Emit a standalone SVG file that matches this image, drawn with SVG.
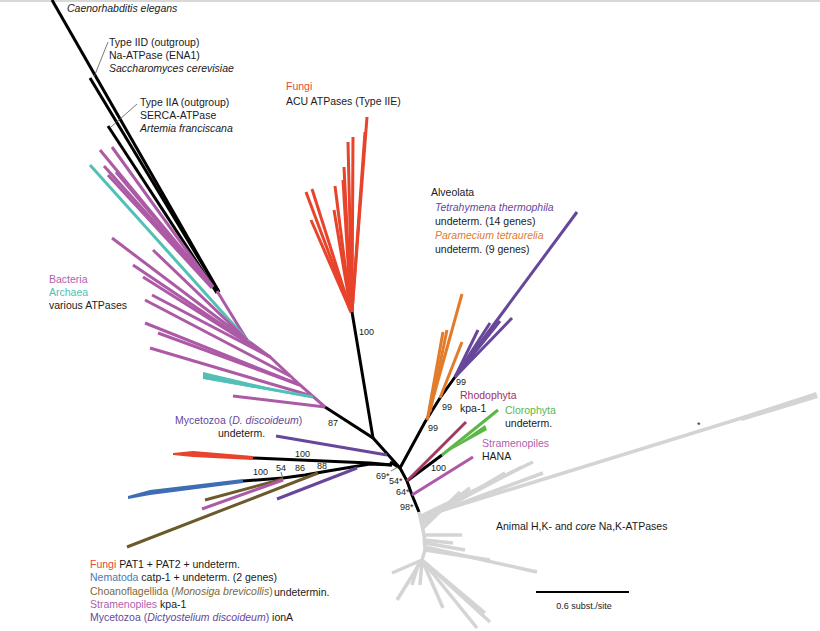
<svg xmlns="http://www.w3.org/2000/svg" width="820" height="631" viewBox="0 0 820 631">
<style>
text{font-family:"Liberation Sans",Arial,sans-serif;font-size:10.5px;fill:#1a1a1a}
.it{font-style:italic}
.bs{font-size:9px}
line,polyline,path{fill:none;stroke-linecap:butt}
.k{stroke:#000;stroke-width:3}
.r{stroke:#e8432b;stroke-width:3}
.m{stroke:#ad5aa6;stroke-width:3}
.t{stroke:#52c0b6;stroke-width:3}
.p{stroke:#66479a;stroke-width:3}
.o{stroke:#e27c2c;stroke-width:3}
.mr{stroke:#a23a65;stroke-width:3}
.g{stroke:#5cb748;stroke-width:3}
.b{stroke:#3f6db4;stroke-width:3}
.ol{stroke:#6b5a2b;stroke-width:3}
.gr{stroke:#d4d4d4;stroke-width:3.5}
.ld{stroke:#555;stroke-width:0.8}
.cR{fill:#e64a33}.cM{fill:#b060ae}.cT{fill:#4bbfb4}.cP{fill:#66479a}.cO{fill:#e07a30}
.cMr{fill:#a0305f}.cG{fill:#5cb748}.cB{fill:#4a78b8}.cOl{fill:#7a6a38}
</style>
<rect x="0" y="0" width="820" height="631" fill="#fff"/>
<rect x="0" y="0" width="820" height="2" fill="#d8d8d8"/>

<g id="connectors">
  <polyline class="k" points="325,407 373,438 400,468"/>
  <polyline class="k" points="352,312 373,438"/>
  <polyline class="k" points="400,468 407,481 412,495 419,512"/>
  <polyline class="k" points="400,468 425,422 440,398 455,377"/>
  <polyline class="k" points="407,481 442,455"/>
  <polyline class="k" points="390,462 400,468"/>
  <polyline class="k" points="253,458 370,463 392,465"/>
  <polyline class="k" points="243,481 283,478 305,475 328,471 370,464 392,465"/>
  <line class="ld" x1="391" y1="471" x2="398" y2="467"/>
  <line class="ld" x1="281" y1="472" x2="283" y2="479"/>
</g>

<g id="outgroups">
  <line class="k" x1="52" y1="0" x2="219" y2="292"/>
  <line class="k" x1="90" y1="78" x2="219" y2="292"/>
  <line class="k" x1="108" y1="126" x2="217" y2="293"/>
  <line class="ld" x1="108" y1="42" x2="94" y2="77"/>
  <line class="ld" x1="137" y1="104" x2="111" y2="127"/>
</g>

<g id="bacteria-archaea">
  <polyline class="m" points="217,291 247,340 270,357 300,385 325,407"/>
  <line class="m" x1="100" y1="150" x2="213" y2="287"/>
  <line class="m" x1="112" y1="147" x2="213" y2="287"/>
  <line class="m" x1="104" y1="166" x2="210" y2="284"/>
  <line class="m" x1="116" y1="172" x2="210" y2="284"/>
  <line class="m" x1="108" y1="175" x2="212" y2="288"/>
  <line class="t" x1="90" y1="165" x2="250" y2="343"/>
  <line class="m" x1="112" y1="238" x2="247" y2="340"/>
  <line class="m" x1="153" y1="250" x2="247" y2="340"/>
  <line class="m" x1="133" y1="265" x2="270" y2="357"/>
  <line class="m" x1="143" y1="277" x2="270" y2="357"/>
  <line class="m" x1="152" y1="295" x2="270" y2="357"/>
  <line class="m" x1="145" y1="300" x2="290" y2="376"/>
  <line class="m" x1="145" y1="323" x2="300" y2="385"/>
  <line class="m" x1="158" y1="333" x2="300" y2="385"/>
  <line class="m" x1="150" y1="348" x2="312" y2="396"/>
  <polygon points="203,372 203,379 313,398" fill="#52c0b6"/>
  <line class="t" x1="203" y1="377" x2="313" y2="397"/>
  <line class="m" x1="233" y1="396" x2="325" y2="407"/>
</g>

<g id="fungi-acu">
  <line class="r" x1="367" y1="117" x2="352" y2="312"/>
  <line class="r" x1="365" y1="132" x2="352" y2="312"/>
  <line class="r" x1="353" y1="137" x2="352" y2="312"/>
  <line class="r" x1="348" y1="142" x2="352" y2="312"/>
  <line class="r" x1="344" y1="167" x2="351" y2="312"/>
  <line class="r" x1="343" y1="180" x2="351" y2="312"/>
  <line class="r" x1="335" y1="186" x2="351" y2="312"/>
  <line class="r" x1="334" y1="210" x2="351" y2="312"/>
  <line class="r" x1="306" y1="192" x2="351" y2="312"/>
  <line class="r" x1="312" y1="189" x2="351" y2="312"/>
  <line class="r" x1="311" y1="220" x2="351" y2="312"/>
</g>

<g id="alveolata">
  <line class="p" x1="455" y1="377" x2="577" y2="212"/>
  <line class="p" x1="455" y1="377" x2="512" y2="318"/>
  <line class="p" x1="455" y1="377" x2="500" y2="321"/>
  <line class="p" x1="455" y1="377" x2="490" y2="323"/>
  <line class="p" x1="455" y1="377" x2="478" y2="330"/>
  <line class="o" x1="427" y1="420" x2="462" y2="294"/>
  <line class="o" x1="428" y1="416" x2="443" y2="332"/>
  <line class="o" x1="430" y1="412" x2="447" y2="330"/>
  <line class="o" x1="440" y1="398" x2="462" y2="342"/>
</g>

<g id="rhodophyta">
  <line class="mr" x1="407" y1="481" x2="466" y2="422"/>
</g>
<g id="clorophyta">
  <line class="g" x1="442" y1="455" x2="498" y2="410"/>
  <polygon points="442,455 485,425 487,430" fill="#5cb748"/>
</g>
<g id="stramenopiles-hana">
  <line class="m" x1="412" y1="495" x2="473" y2="457"/>
</g>

<g id="left-group">
  <polygon points="173,453 193,451 253,456 253,460 193,457 173,455" fill="#e8432b"/>
  <line class="p" x1="276" y1="436" x2="387" y2="455"/>
  <polygon points="128,496 150,490 243,479 243,483 150,495 128,499" fill="#3f6db4"/>
  <line class="ol" x1="205" y1="500" x2="283" y2="479"/>
  <line class="m" x1="202" y1="509" x2="283" y2="480"/>
  <line class="ol" x1="127" y1="547" x2="318" y2="473"/>
  <line class="p" x1="277" y1="499" x2="357" y2="468"/>
</g>

<g id="animal">
  <polyline class="gr" points="419,512 424,535 425,550 422,560"/>
  <line class="gr" x1="424" y1="516" x2="816" y2="395" stroke-width="3"/>
  <polygon points="740,417 816,392 818,398 742,421" fill="#d4d4d4"/>
  <line class="gr" x1="421" y1="516" x2="533" y2="462"/>
  <line class="gr" x1="421" y1="518" x2="543" y2="473"/>
  <line class="gr" x1="421" y1="520" x2="522" y2="467"/>
  <line class="gr" x1="422" y1="522" x2="505" y2="473"/>
  <line class="gr" x1="422" y1="524" x2="470" y2="488"/>
  <line class="gr" x1="423" y1="528" x2="460" y2="492"/>
  <line class="gr" x1="424" y1="535" x2="462" y2="535"/>
  <line class="gr" x1="424" y1="540" x2="453" y2="543"/>
  <line class="gr" x1="425" y1="543" x2="465" y2="550"/>
  <line class="gr" x1="425" y1="547" x2="537" y2="572"/>
  <line class="gr" x1="425" y1="550" x2="490" y2="560"/>
  <line class="gr" x1="422" y1="560" x2="392" y2="573"/>
  <line class="gr" x1="422" y1="560" x2="397" y2="600"/>
  <line class="gr" x1="422" y1="560" x2="420" y2="585"/>
  <line class="gr" x1="422" y1="560" x2="443" y2="608"/>
  <line class="gr" x1="422" y1="560" x2="477" y2="628"/>
  <line class="gr" x1="422" y1="560" x2="490" y2="622"/>
  <line class="gr" x1="422" y1="560" x2="485" y2="613"/>
  <line class="gr" x1="418" y1="565" x2="412" y2="585"/>
</g>

<g id="labels">
  <text x="67" y="12" class="it">Caenorhabditis elegans</text>
  <text x="109" y="46">Type IID (outgroup)</text>
  <text x="109" y="59">Na-ATPase (ENA1)</text>
  <text x="109" y="72" class="it">Saccharomyces cerevisiae</text>
  <text x="140" y="106">Type IIA (outgroup)</text>
  <text x="140" y="119">SERCA-ATPase</text>
  <text x="140" y="132" class="it">Artemia franciscana</text>
  <text x="286" y="90" class="cR">Fungi</text>
  <text x="286" y="105">ACU ATPases (Type IIE)</text>
  <text x="431" y="196">Alveolata</text>
  <text x="435" y="211" class="it cP">Tetrahymena thermophila</text>
  <text x="435" y="225">undeterm. (14 genes)</text>
  <text x="435" y="239" class="it cO">Paramecium tetraurelia</text>
  <text x="435" y="253">undeterm. (9 genes)</text>
  <text x="49" y="283" class="cM">Bacteria</text>
  <text x="49" y="296" class="cT">Archaea</text>
  <text x="49" y="309">various ATPases</text>
  <text x="175" y="424" class="cP">Mycetozoa (<tspan class="it">D. discoideum</tspan>)</text>
  <text x="218" y="437">undeterm.</text>
  <text x="460" y="399" class="cMr">Rhodophyta</text>
  <text x="460" y="412">kpa-1</text>
  <text x="505" y="414" class="cG">Clorophyta</text>
  <text x="505" y="427">undeterm.</text>
  <text x="482" y="447" class="cM">Stramenopiles</text>
  <text x="482" y="460">HANA</text>
  <text x="496" y="530">Animal H,K- and <tspan class="it">core</tspan> Na,K-ATPases</text>
  <text x="90" y="568"><tspan class="cR">Fungi</tspan> PAT1 + PAT2 + undeterm.</text>
  <text x="90" y="581"><tspan class="cB">Nematoda</tspan> catp-1 + undeterm. (2 genes)</text>
  <text x="90" y="595"><tspan class="cOl">Choanoflagellida (<tspan class="it">Monosiga brevicollis</tspan>)</tspan></text>
  <text x="274" y="596">undetermin.</text>
  <text x="90" y="608"><tspan class="cM">Stramenopiles</tspan> kpa-1</text>
  <text x="90" y="621"><tspan class="cP">Mycetozoa (<tspan class="it">Dictyostelium discoideum</tspan>)</tspan> ionA</text>
</g>

<g id="support-values">
  <text x="359" y="335" class="bs">100</text>
  <text x="328" y="426" class="bs">87</text>
  <text x="295" y="457" class="bs">100</text>
  <text x="253" y="475" class="bs">100</text>
  <text x="276" y="471" class="bs">54</text>
  <text x="295" y="471" class="bs">86</text>
  <text x="317" y="469" class="bs">88</text>
  <text x="376" y="479" class="bs">69*</text>
  <text x="389" y="484" class="bs">54*</text>
  <text x="396" y="495" class="bs">64*</text>
  <text x="400" y="510" class="bs">98*</text>
  <text x="428" y="431" class="bs">99</text>
  <text x="442" y="410" class="bs">99</text>
  <text x="456" y="385" class="bs">99</text>
  <text x="431" y="471" class="bs">100</text>
  <text x="697" y="428" class="bs">*</text>
</g>

<g id="scale">
  <line x1="536" y1="592" x2="629" y2="592" stroke="#000" stroke-width="2"/>
  <text x="584" y="609" class="bs" text-anchor="middle">0.6 subst./site</text>
</g>
</svg>
